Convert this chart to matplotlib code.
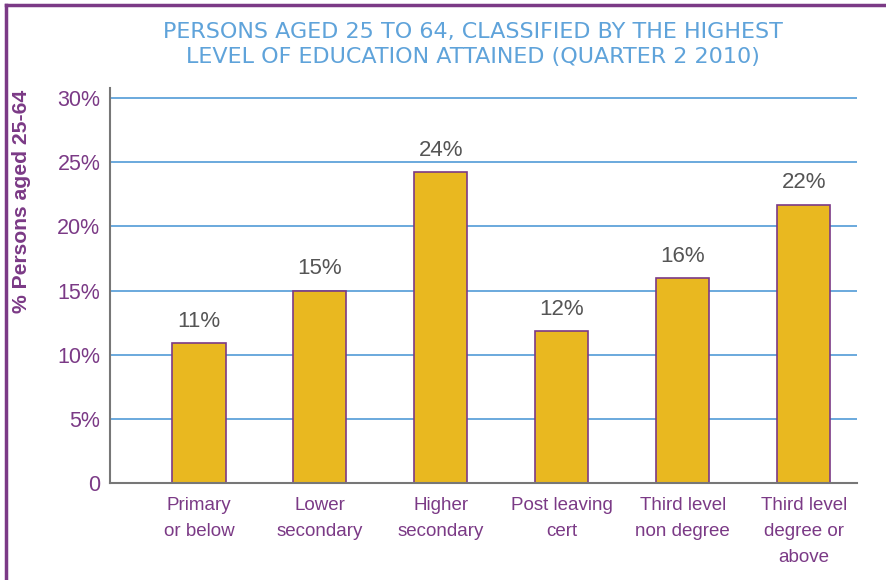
import matplotlib.pyplot as plt
from matplotlib.lines import Line2D

categories = ['Primary\nor below', 'Lower\nsecondary', 'Higher\nsecondary',
              'Post leaving\ncert', 'Third level\nnon degree', 'Third level\ndegree or\nabove']
values = [10.9, 15.0, 24.2, 11.85, 15.95, 21.7]
labels = ['11%', '15%', '24%', '12%', '16%', '22%']
yticks = [0, 5, 10, 15, 20, 25, 30]
ytick_labels = ['0', '5%', '10%', '15%', '20%', '25%', '30%']

purple = '#7B3A86'
blue = '#5FA3DA'
gold = '#E9B820'

plt.rcParams['font.family'] = ['Liberation Sans', 'DejaVu Sans']

fig = plt.figure(figsize=(8.86, 5.8), dpi=100)
ax = fig.add_axes([110/886, 1 - 483/580, (857 - 110)/886, (483 - 88)/580])

x = range(len(categories))
ax.bar(x, values, width=0.44, color=gold, edgecolor=purple, linewidth=1.2, zorder=3)

for i, v in enumerate(values):
    ax.annotate(labels[i], (i, v), xytext=(0, 8), textcoords='offset points',
                ha='center', va='bottom', fontsize=16, color='#555555')

ax.set_xlim(-0.735, 5.44)
ax.set_ylim(0, 30.78)
for y in yticks[1:]:
    ax.axhline(y, color=blue, linewidth=1.3, zorder=1)

ax.set_yticks(yticks)
ax.set_yticklabels(ytick_labels, fontsize=15.5, color=purple)
ax.set_xticks(list(x))
ax.set_xticklabels(categories, fontsize=13.5, color=purple, linespacing=1.7, va='top')
ax.tick_params(axis='both', length=0)
ax.tick_params(axis='y', pad=7)
ax.tick_params(axis='x', pad=10)

for s in ['top', 'right']:
    ax.spines[s].set_visible(False)
for s in ['left', 'bottom']:
    ax.spines[s].set_color('#777777')
    ax.spines[s].set_linewidth(1.5)
    ax.spines[s].set_zorder(4)

fig.text(473/886, 1 - 32/580, 'PERSONS AGED 25 TO 64, CLASSIFIED BY THE HIGHEST',
         ha='center', va='center', fontsize=16, color=blue, family='DejaVu Sans')
fig.text(473/886, 1 - 57/580, 'LEVEL OF EDUCATION ATTAINED (QUARTER 2 2010)',
         ha='center', va='center', fontsize=16, color=blue, family='DejaVu Sans')
fig.text(22/886, 1 - 201/580, '% Persons aged 25-64', rotation=90,
         ha='center', va='center', fontsize=15.2, color=purple, fontweight='bold')

# page border, top and left
fig.add_artist(Line2D([6/886, 1], [1 - 5/580, 1 - 5/580], color=purple, linewidth=2.5))
fig.add_artist(Line2D([6/886, 6/886], [0, 1 - 5/580], color=purple, linewidth=2.5))

plt.savefig('out.png', dpi=100)
